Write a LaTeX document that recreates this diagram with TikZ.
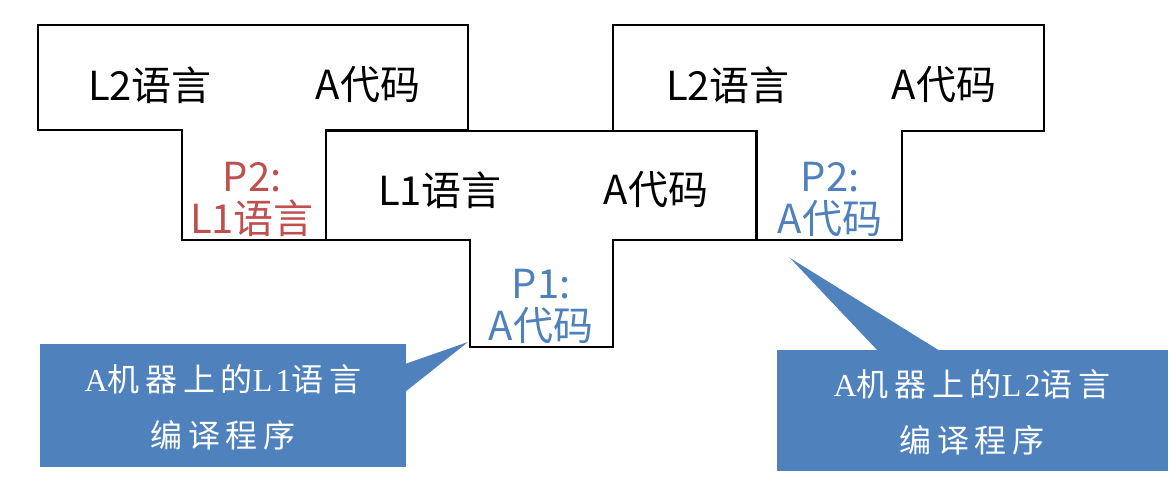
\documentclass[tikz,border=0pt]{standalone}
\usepackage{fontspec}
\setmainfont{Noto Sans CJK SC}
\newfontfamily\cjksp[LetterSpace=18]{Noto Sans CJK SC}
\newfontfamily\serifl[LetterSpace=10]{Liberation Serif}
\begin{document}
\begin{tikzpicture}[x=1pt,y=-1pt]
\definecolor{cred}{RGB}{192,80,77}
\definecolor{cblue}{RGB}{79,129,189}
\tikzset{tee/.style={draw=black,line width=1.3pt,fill=white},
 lab/.style={font=\fontsize{40}{42}\selectfont},
 rl/.style={text=cred,align=center,font=\fontsize{40}{42}\selectfont},
 bl/.style={text=cblue,align=center,font=\fontsize{40}{42}\selectfont},
 call/.style={fill=cblue},
 ct/.style={text=white,align=center,font=\fontsize{32}{56}\selectfont\cjksp}}
\useasboundingbox (0,0) rectangle (1176,481);
\draw[tee] (38,25)--(468,25)--(468,130)--(326,130)--(326,240)--(182,240)--(182,130)--(38,130)--cycle;
\draw[tee] (613,25)--(1044,25)--(1044,131)--(902,131)--(902,240)--(757,240)--(757,131)--(613,131)--cycle;
\draw[tee] (326,131)--(756,131)--(756,240)--(613,240)--(613,347)--(470,347)--(470,240)--(326,240)--cycle;
\node[lab] (l1) at (150,85) {L2语言};
\node[lab] (l2) at (368,85) {A代码};
\node[lab] (r1) at (728,85) {L2语言};
\node[lab] (r2) at (944,85) {A代码};
\node[lab] (m1) at (440,190) {L1语言};
\node[lab] (m2) at (656,190) {A代码};
\node[rl] (p2l) at (252,199) {P2:\\L1语言};
\node[bl] (p1) at (541,306) {P1:\\A代码};
\node[bl] (p2r) at (830,199) {P2:\\A代码};
\coordinate (t1) at (468,342);
\coordinate (t2) at (790,258);
\fill[call] (40,344) rectangle (406,467);
\fill[call] (405,364)--(t1)--(405,392)--cycle;
\fill[call] (777,350) rectangle (1168,471);
\fill[call] (878,351)--(t2)--(940,351)--cycle;
\node[ct] (c1) at (223,407) {{\serifl A}机器上的{\serifl L1}语言\\编译程序};
\node[ct] (c2) at (972,412) {{\serifl A}机器上的{\serifl L2}语言\\编译程序};
\end{tikzpicture}
\end{document}
